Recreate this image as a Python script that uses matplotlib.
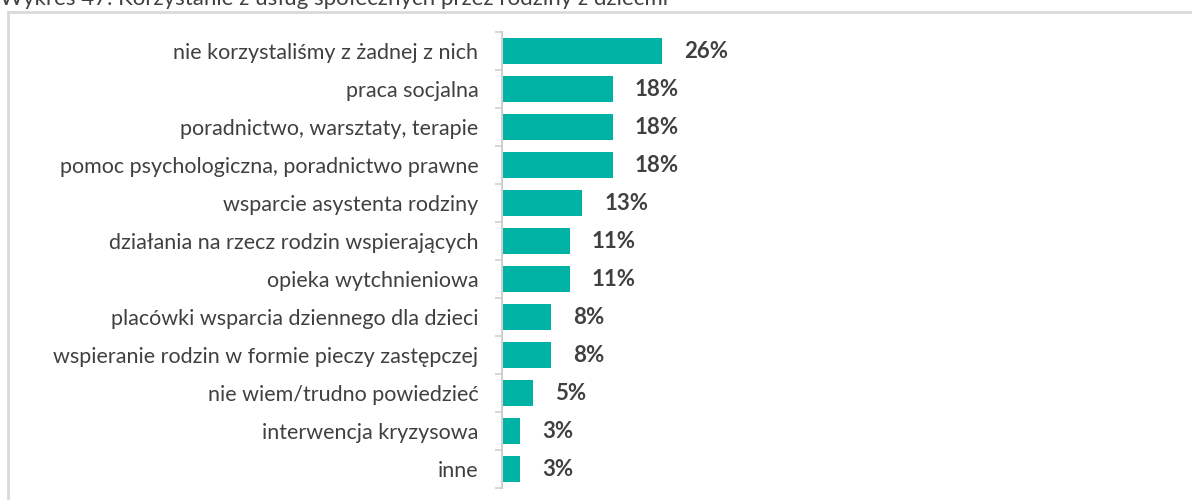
import numpy as np
import matplotlib.pyplot as plt
from matplotlib.lines import Line2D

categories = [
    "nie korzystaliśmy z żadnej z nich",
    "praca socjalna",
    "poradnictwo, warsztaty, terapie",
    "pomoc psychologiczna, poradnictwo prawne",
    "wsparcie asystenta rodziny",
    "działania na rzecz rodzin wspierających",
    "opieka wytchnieniowa",
    "placówki wsparcia dziennego dla dzieci",
    "wspieranie rodzin w formie pieczy zastępczej",
    "nie wiem/trudno powiedzieć",
    "interwencja kryzysowa",
    "inne",
]
values = [26, 18, 18, 18, 13, 11, 11, 8, 8, 5, 3, 3]
title = "Wykres 47. Korzystanie z usług społecznych przez rodziny z dziećmi"

plt.rcParams['font.family'] = ['Lato', 'DejaVu Sans']

W, H = 1192, 500
fig = plt.figure(figsize=(W / 100, H / 100), dpi=100)
ax = fig.add_axes([502 / W, 1 - 488 / H, (1160 - 502) / W, (488 - 32) / H])

n = len(categories)
y = np.arange(n)
ax.barh(y, values, height=0.68, color='#00B2A3')
ax.set_ylim(n - 0.5, -0.5)
ax.set_xlim(0, 658 / 6.15)

for yi, v in zip(y, values):
    ax.annotate(f"{v}%", (v, yi), xytext=(16, 0), textcoords='offset points',
                va='center', ha='left', fontsize=16, fontweight='bold',
                color='#404040')

ax.set_yticks(y)
ax.set_yticklabels(categories, fontsize=15.5, color='#404040')
ax.tick_params(axis='y', which='major', length=0, pad=17)
ax.set_yticks(np.arange(-0.5, n, 1), minor=True)
ax.tick_params(axis='y', which='minor', length=5, width=1.2, color='#D0D0D0')
ax.set_xticks([])
for s in ['top', 'right', 'bottom']:
    ax.spines[s].set_visible(False)
ax.spines['left'].set_color('#D0D0D0')
ax.spines['left'].set_linewidth(1.5)

# outer chart frame (top and left edges)
fig.add_artist(Line2D([8 / W, 1], [1 - 12 / H, 1 - 12 / H], color='#D9D9D9', lw=2,
                      transform=fig.transFigure))
fig.add_artist(Line2D([8 / W, 8 / W], [0, 1 - 12 / H], color='#D9D9D9', lw=2,
                      transform=fig.transFigure))

fig.text(0, 1 - 5 / H, title, fontsize=16, color='#404040', va='baseline', ha='left')

fig.savefig('out.png', dpi=100)
